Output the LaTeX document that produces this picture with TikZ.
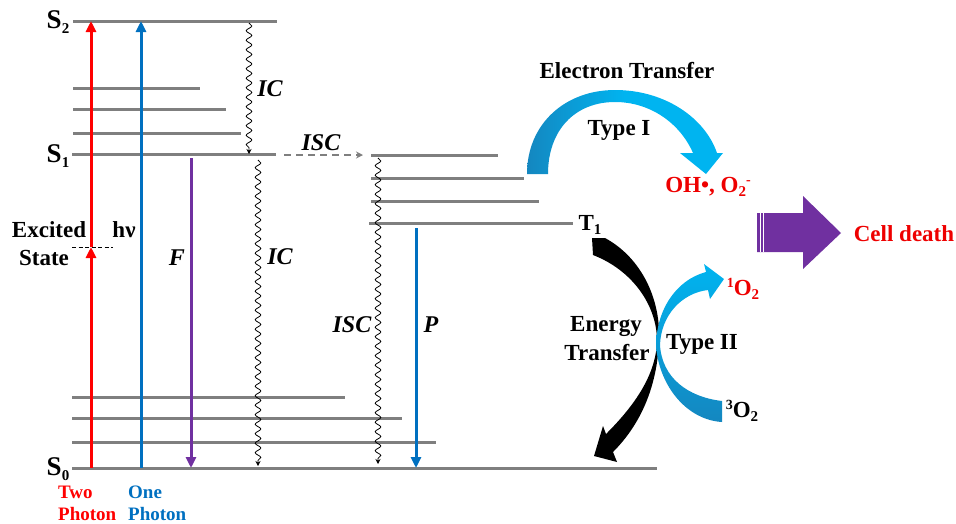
\documentclass[tikz,border=0pt]{standalone}
\usepackage{fontspec}
\setmainfont{Liberation Serif}
\usetikzlibrary{arrows.meta,decorations.pathmorphing}
\definecolor{lvlgray}{HTML}{7F7F7F}
\definecolor{tpred}{HTML}{FF0000}
\definecolor{opblue}{HTML}{0070C0}
\definecolor{fpurple}{HTML}{7030A0}
\definecolor{txtred}{HTML}{EE0000}
\definecolor{cyanA}{HTML}{00B4F0}
\definecolor{cyanB}{HTML}{1487C0}
\newcommand{\lsub}[1]{\raisebox{-0.35ex}{\fontsize{15}{15}\selectfont #1}}
\newcommand{\lsupr}[1]{\raisebox{0.75ex}{\fontsize{14}{14}\selectfont #1}}
\begin{document}
\begin{tikzpicture}[x=1pt,y=-1pt,
  font=\bfseries\fontsize{23}{26}\selectfont,
  level/.style={draw=lvlgray,line width=3pt},
  photon/.style={line width=3pt,-{Triangle[length=11pt,width=10pt]}},
  wavy/.style={draw=black,line width=0.8pt,decorate,
     decoration={snake,amplitude=2.8pt,segment length=9.5pt,post length=5pt},
     -{Stealth[length=5pt,width=5pt]}},
  lbl/.style={inner sep=0pt,anchor=center},
  ilbl/.style={inner sep=0pt,anchor=center,font=\bfseries\itshape\fontsize{24}{26}\selectfont},
  slbl/.style={inner sep=0pt,anchor=center,font=\bfseries\fontsize{27}{29}\selectfont},
  small/.style={inner sep=0pt,anchor=west,font=\bfseries\fontsize{19}{22}\selectfont}]
\useasboundingbox (0,0) rectangle (956,523);

% ---------- energy levels ----------
\draw[level] (73,21) -- (277,21);
\draw[level] (73,88) -- (200,88);
\draw[level] (73,109) -- (226,109);
\draw[level] (73,133) -- (241,133);
\draw[level] (72,154) -- (276,154);
\draw[level] (72,397) -- (345,397);
\draw[level] (72,418) -- (402,418);
\draw[level] (72,442) -- (436,442);
\draw[level] (72,468) -- (657,468);
\draw[level] (371,155) -- (498,155);
\draw[level] (371,178) -- (524,178);
\draw[level] (371,201) -- (539,201);
\draw[level] (369,223) -- (573,223);
\draw[black,line width=0.9pt,dash pattern=on 4pt off 2.5pt] (72,247) -- (113,247);

% ---------- level labels ----------
\node[slbl] (s2) at (58,22) {S\lsub{2}};
\node[slbl] (s1) at (58,156) {S\lsub{1}};
\node[slbl] (s0) at (58,469) {S\lsub{0}};
\node[lbl] (t1) at (590,225) {T\lsub{1}};
\node[lbl] (exc) at (49,230) {Excited};
\node[lbl] (sta) at (44,258) {State};
\node[lbl] (hnu) at (124,230) {hν};

% ---------- vertical transitions ----------
\coordinate (r0) at (91,468);
\coordinate (rx) at (91,247);
\coordinate (r2) at (91,21);
\draw[photon,tpred] (r0) -- (rx);
\draw[photon,tpred] (rx) -- (r2);
\coordinate (b0) at (141,468);
\coordinate (b2) at (141,21);
\draw[photon,opblue] (b0) -- (b2);
\coordinate (f1) at (191,158);
\coordinate (f0) at (191,468);
\draw[photon,fpurple] (f1) -- (f0);
\node[ilbl] (F) at (177,258) {F};

\coordinate (ic1a) at (249,23);
\coordinate (ic1b) at (249,154);
\draw[wavy] (ic1a) -- (ic1b);
\node[ilbl] (ic1) at (270,89) {IC};
\coordinate (ic2a) at (258,160);
\coordinate (ic2b) at (258,466);
\draw[wavy] (ic2a) -- (ic2b);
\node[ilbl] (ic2) at (280,257) {IC};

\coordinate (isca) at (284,155);
\coordinate (iscb) at (363,155);
\draw[lvlgray,line width=1.8pt,dash pattern=on 7pt off 5pt,-{Stealth[length=7pt,width=7pt]}] (isca) -- (iscb);
\node[ilbl] (isc1) at (321,143) {ISC};

\coordinate (isc2a) at (378,158);
\coordinate (isc2b) at (378,464);
\draw[wavy] (isc2a) -- (isc2b);
\node[ilbl] (isc2) at (352,325) {ISC};

\coordinate (p1) at (416,228);
\coordinate (p0) at (416,468);
\draw[photon,opblue] (p1) -- (p0);
\node[ilbl] (P) at (431,325) {P};

% ---------- bottom labels ----------
\node[small,tpred] (two) at (58,492) {Two};
\node[small,tpred] (twop) at (58,514) {Photon};
\node[small,opblue] (one) at (128,492) {One};
\node[small,opblue] (onep) at (128,514) {Photon};

% ---------- Type I arrow ----------
\shade[left color=cyanB,right color=cyanA,middle color=cyanA]
  (527,174) .. controls (527,124) and (565,90) .. (615,90)
  .. controls (665,90) and (705,118) .. (717,153)
  -- (723,153) -- (706,174) -- (680,153) -- (693,153)
  .. controls (680,123) and (650,102) .. (615,102)
  .. controls (575,102) and (548,130) .. (548,174) -- cycle;
\node[lbl] (et) at (627,71) {Electron Transfer};
\node[lbl] (t1lab) at (619,130) {Type I};
\node[lbl,txtred] (ros) at (708,187) {OH\textbullet, O\lsub{2}\lsupr{-}};

% ---------- Cell death arrow ----------
\fill[fpurple] (757,213) -- (803,213) -- (803,196) -- (841,233) -- (803,269) -- (803,252) -- (757,252) -- cycle;
\draw[white,line width=0.8pt] (760.5,213) -- (760.5,252);
\draw[white,line width=0.8pt] (763.5,213) -- (763.5,252);
\node[lbl,txtred] (death) at (904,234) {Cell death};

% ---------- Energy transfer (black) arrow ----------
\fill[black] (592,238) -- (605,238)
  .. controls (642,258) and (661,300) .. (659,341)
  .. controls (657,388) and (640,425) .. (613,452)
  -- (617,462) -- (594,456) -- (603,426) -- (606,434)
  .. controls (630,410) and (656,378) .. (657,341)
  .. controls (657,305) and (632,270) .. (593,255) -- cycle;
\node[lbl] (en) at (606,326) {Energy};
\node[lbl] (tr) at (607,353) {Transfer};

% ---------- Type II (blue) arrow ----------
\shade[top color=cyanA,bottom color=cyanB]
  (722,401) .. controls (688,397) and (662,378) .. (660,345)
  .. controls (661,315) and (682,293) .. (708,290)
  -- (710,299) -- (724,279) -- (704,264) -- (706,272)
  .. controls (676,280) and (656,310) .. (656,347)
  .. controls (660,388) and (688,420) .. (722,422) -- cycle;
\node[lbl] (t2lab) at (702,344) {Type II};
\node[lbl,txtred] (o1) at (743,289) {\lsupr{1}O\lsub{2}};
\node[lbl] (o3) at (742,411) {\lsupr{3}O\lsub{2}};
\end{tikzpicture}
\end{document}
